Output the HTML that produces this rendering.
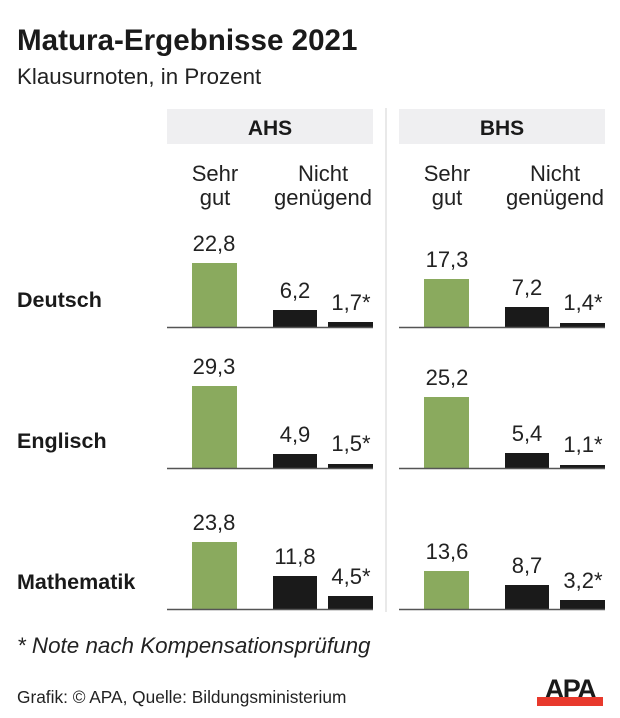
<!DOCTYPE html>
<html><head><meta charset="utf-8"><style>
body{margin:0;background:#fff}
svg{display:block;font-family:"Liberation Sans",Arial,sans-serif}
</style></head><body>
<svg width="620" height="718" viewBox="0 0 620 718">
<text x="17" y="50" font-size="29.6" font-weight="bold" fill="#1a1a1a">Matura-Ergebnisse 2021</text>
<text x="17" y="84" font-size="22.3" fill="#222">Klausurnoten, in Prozent</text>
<rect x="167" y="109" width="206" height="35" fill="#efeff1"/>
<rect x="399" y="109" width="206" height="35" fill="#efeff1"/>
<text x="270" y="135" font-size="21" font-weight="bold" text-anchor="middle" fill="#1a1a1a">AHS</text>
<text x="502" y="135" font-size="21" font-weight="bold" text-anchor="middle" fill="#1a1a1a">BHS</text>
<line x1="386" y1="108" x2="386" y2="612" stroke="#e2e2e2" stroke-width="1.5"/>
<g font-size="22" fill="#222" text-anchor="middle">
<text x="215" y="181">Sehr</text><text x="215" y="205">gut</text>
<text x="323" y="181">Nicht</text><text x="323" y="205">genügend</text>
<text x="447" y="181">Sehr</text><text x="447" y="205">gut</text>
<text x="555" y="181">Nicht</text><text x="555" y="205">genügend</text>
</g>
<g font-size="21.5" font-weight="bold" fill="#1a1a1a">
<text x="17" y="307">Deutsch</text>
<text x="17" y="448">Englisch</text>
<text x="17" y="589">Mathematik</text>
</g>
<g font-size="22" fill="#222" text-anchor="middle">
<rect x="192" y="263" width="45" height="64" fill="#8aaa5e"/><text x="214" y="251">22,8</text>
<rect x="273" y="310" width="44" height="17" fill="#1a1a1a"/><text x="295" y="298">6,2</text>
<rect x="328" y="322" width="45" height="5" fill="#1a1a1a"/><text x="351" y="310">1,7*</text>
<rect x="424" y="279" width="45" height="48" fill="#8aaa5e"/><text x="447" y="267">17,3</text>
<rect x="505" y="307" width="44" height="20" fill="#1a1a1a"/><text x="527" y="295">7,2</text>
<rect x="560" y="323" width="45" height="4" fill="#1a1a1a"/><text x="583" y="310">1,4*</text>
<rect x="192" y="386" width="45" height="82" fill="#8aaa5e"/><text x="214" y="374">29,3</text>
<rect x="273" y="454" width="44" height="14" fill="#1a1a1a"/><text x="295" y="442">4,9</text>
<rect x="328" y="464" width="45" height="4" fill="#1a1a1a"/><text x="351" y="451">1,5*</text>
<rect x="424" y="397" width="45" height="71" fill="#8aaa5e"/><text x="447" y="385">25,2</text>
<rect x="505" y="453" width="44" height="15" fill="#1a1a1a"/><text x="527" y="441">5,4</text>
<rect x="560" y="465" width="45" height="3" fill="#1a1a1a"/><text x="583" y="452">1,1*</text>
<rect x="192" y="542" width="45" height="67" fill="#8aaa5e"/><text x="214" y="530">23,8</text>
<rect x="273" y="576" width="44" height="33" fill="#1a1a1a"/><text x="295" y="564">11,8</text>
<rect x="328" y="596" width="45" height="13" fill="#1a1a1a"/><text x="351" y="584">4,5*</text>
<rect x="424" y="571" width="45" height="38" fill="#8aaa5e"/><text x="447" y="559">13,6</text>
<rect x="505" y="585" width="44" height="24" fill="#1a1a1a"/><text x="527" y="573">8,7</text>
<rect x="560" y="600" width="45" height="9" fill="#1a1a1a"/><text x="583" y="588">3,2*</text>
</g>
<g stroke="#555" stroke-width="1.5">
<line x1="167" y1="327.5" x2="373" y2="327.5"/><line x1="399" y1="327.5" x2="605" y2="327.5"/>
<line x1="167" y1="468.5" x2="373" y2="468.5"/><line x1="399" y1="468.5" x2="605" y2="468.5"/>
<line x1="167" y1="609.5" x2="373" y2="609.5"/><line x1="399" y1="609.5" x2="605" y2="609.5"/>
</g>
<text x="17" y="653" font-size="22.4" font-style="italic" fill="#222">* Note nach Kompensationsprüfung</text>
<text x="17" y="703" font-size="17.3" fill="#222">Grafik: © APA, Quelle: Bildungsministerium</text>
<text x="570" y="698" font-size="27" font-weight="bold" text-anchor="middle" fill="#1a1a1a" letter-spacing="-1.5">APA</text>
<rect x="537" y="697" width="66" height="9" fill="#e8392c"/>
</svg>
</body></html>
